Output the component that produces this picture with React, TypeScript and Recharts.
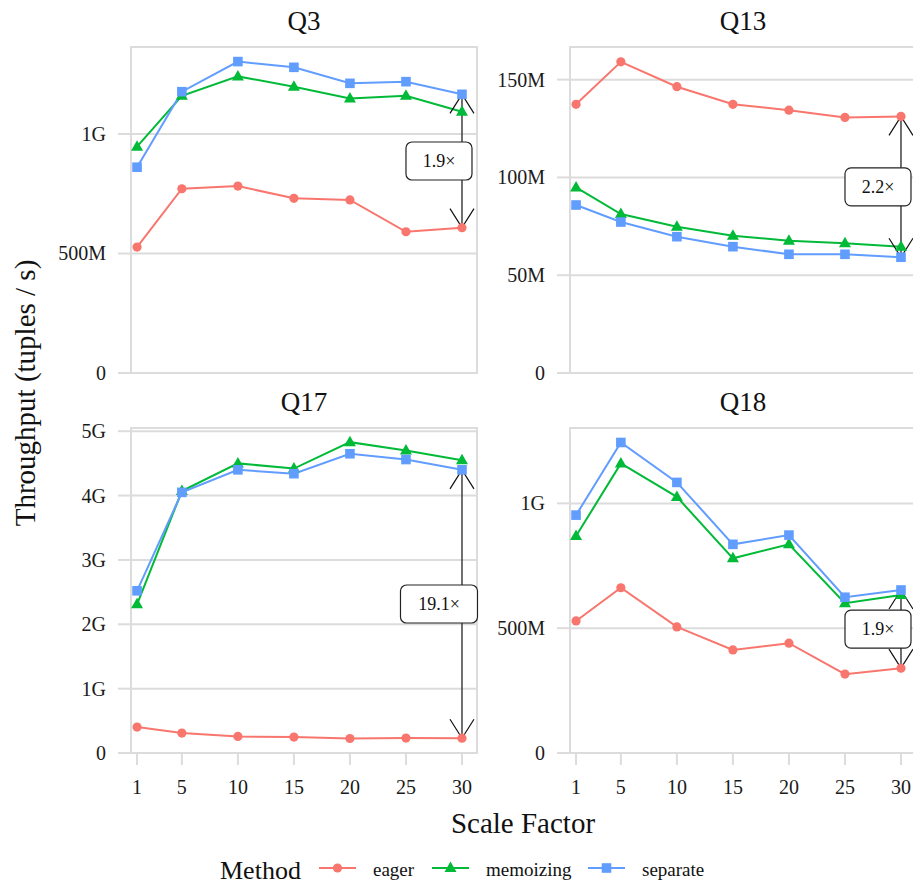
import { CartesianGrid, Line, LineChart, ReferenceArea, ReferenceLine, XAxis, YAxis } from "recharts";

const scaleFactors = [1, 5, 10, 15, 20, 25, 30];
const xTicks = [1, 5, 10, 15, 20, 25, 30];
const methods = ["eager", "memoizing", "separate"];
const methodColors = ["#F8766D", "#00BA38", "#619CFF"];

// throughput values (tuples / s), one array per query and method
const q3Eager = [527e6, 771e6, 782e6, 731e6, 724e6, 591e6, 608e6];
const q3Memoizing = [947e6, 1160e6, 1241e6, 1198e6, 1149e6, 1160e6, 1093e6];
const q3Separate = [861e6, 1177e6, 1303e6, 1279e6, 1212e6, 1219e6, 1166e6];

const q13Eager = [137.4e6, 159.1e6, 146.4e6, 137.4e6, 134.4e6, 130.7e6, 131.2e6];
const q13Memoizing = [94.9e6, 81.3e6, 74.8e6, 70.2e6, 67.6e6, 66.3e6, 64.6e6];
const q13Separate = [85.9e6, 77.2e6, 69.7e6, 64.6e6, 60.7e6, 60.7e6, 59.2e6];

const q17Eager = [0.403e9, 0.31e9, 0.257e9, 0.248e9, 0.225e9, 0.232e9, 0.23e9];
const q17Memoizing = [2.31e9, 4.07e9, 4.5e9, 4.42e9, 4.83e9, 4.7e9, 4.55e9];
const q17Separate = [2.52e9, 4.05e9, 4.4e9, 4.34e9, 4.65e9, 4.56e9, 4.4e9];

const q18Eager = [529e6, 662e6, 505e6, 413e6, 440e6, 316e6, 340e6];
const q18Memoizing = [869e6, 1160e6, 1026e6, 780e6, 836e6, 600e6, 633e6];
const q18Separate = [953e6, 1244e6, 1084e6, 836e6, 873e6, 624e6, 653e6];

const q3Ticks = [0, 500e6, 1e9];
const q13Ticks = [0, 50e6, 100e6, 150e6];
const q17Ticks = [0, 1e9, 2e9, 3e9, 4e9, 5e9];
const q18Ticks = [0, 500e6, 1e9];

const panelTitles = ["Q3", "Q13", "Q17", "Q18"];
const ratioLabels = ["1.9×", "2.2×", "19.1×", "1.9×"];
const yMaxes = [1.364e9, 166.7e6, 5.05e9, 1.302e9];

const FONT = "'Liberation Serif', 'DejaVu Serif', serif";
const GRID = "#dcdcdc";
const INK = "#1a1a1a";
const xDomain = [0.46, 31.34];

const fmt = (v: number) => {
  if (v === 0) return "0";
  if (v >= 1e9) return `${+(v / 1e9).toFixed(2)}G`;
  return `${+(v / 1e6).toFixed(2)}M`;
};

const YTick = (p: any) => (
  <text x={p.x} y={p.y} textAnchor="end" dominantBaseline="central" fontSize={20} fill={INK} style={{ fontFamily: FONT }}>
    {fmt(p.payload.value)}
  </text>
);

const XTick = (p: any) => (
  <text x={p.x} y={p.y} dy="0.71em" textAnchor="middle" fontSize={20} fill={INK} style={{ fontFamily: FONT }}>
    {p.payload.value}
  </text>
);

const marker = (kind: number, cx: number, cy: number, color: string, key?: string) => {
  if (kind === 0) return <circle key={key} cx={cx} cy={cy} r={4.6} fill={color} />;
  if (kind === 1)
    return (
      <polygon
        key={key}
        points={`${cx},${cy - 6.5} ${cx - 6},${cy + 4} ${cx + 6},${cy + 4}`}
        fill={color}
      />
    );
  return <rect key={key} x={cx - 4.8} y={cy - 4.8} width={9.6} height={9.6} fill={color} />;
};

const ratioShape = (label: string) => (p: any) => {
  const { x1, y1, y2 } = p;
  const top = Math.min(y1, y2);
  const bot = Math.max(y1, y2);
  const mid = (top + bot) / 2;
  const w = 22 + label.length * 11;
  const cx = x1 - 23;
  return (
    <g>
      <line x1={x1} y1={top} x2={x1} y2={bot} stroke="#333" strokeWidth={1.4} />
      <polyline
        points={`${x1 - 12},${top + 19} ${x1},${top} ${x1 + 12},${top + 19}`}
        fill="none"
        stroke="#111"
        strokeWidth={1.2}
      />
      <polyline
        points={`${x1 - 12},${bot - 19} ${x1},${bot} ${x1 + 12},${bot - 19}`}
        fill="none"
        stroke="#111"
        strokeWidth={1.2}
      />
      <rect x={cx - w / 2} y={mid - 19} width={w} height={38} rx={6} fill="#fff" stroke="#222" strokeWidth={1.2} />
      <text x={cx} y={mid} textAnchor="middle" dominantBaseline="central" fontSize={18} fill="#111" style={{ fontFamily: FONT }}>
        {label}
      </text>
    </g>
  );
};

interface PanelProps {
  idx: number;
  series: number[][];
  ticks: number[];
  left: number;
  top: number;
  bottomRow: boolean;
  rightCol: boolean;
}

const Panel = ({ idx, series, ticks, left, top, bottomRow, rightCol }: PanelProps) => {
  const data = scaleFactors.map((sf, i) => ({
    sf,
    eager: series[0][i],
    memoizing: series[1][i],
    separate: series[2][i],
  }));
  const last = scaleFactors.length - 1;
  const yMax = yMaxes[idx];
  const width = rightCol ? 436 : 480;
  const height = bottomRow ? 420 : 392;

  return (
    <div style={{ position: "absolute", left, top }}>
      <LineChart
        width={width}
        height={height}
        data={data}
        style={{ overflow: "visible" }}
        margin={{ top: bottomRow ? 48 : 47, right: rightCol ? 0 : 3, bottom: bottomRow ? 0 : 19, left: 0 }}
      >
        <CartesianGrid vertical={false} stroke={GRID} strokeWidth={2} />
        <XAxis
          dataKey="sf"
          type="number"
          domain={xDomain}
          allowDataOverflow
          ticks={xTicks}
          hide={!bottomRow}
          height={47}
          axisLine={false}
          tickSize={12}
          tickMargin={15}
          tickLine={{ stroke: GRID, strokeWidth: 2 }}
          tick={<XTick />}
          interval={0}
        />
        <YAxis
          type="number"
          domain={[0, yMax]}
          allowDataOverflow
          ticks={ticks}
          width={rightCol ? 90 : 131}
          axisLine={false}
          tickSize={13}
          tickMargin={12}
          tickLine={{ stroke: GRID, strokeWidth: 2 }}
          tick={<YTick />}
          interval={0}
        />
        <ReferenceArea
          x1={xDomain[0]}
          x2={xDomain[1]}
          y1={0}
          y2={yMax}
          fill="none"
          fillOpacity={0}
          stroke={GRID}
          strokeWidth={2}
        />
        {methods.map((m, k) => (
          <Line
            key={m}
            dataKey={m}
            type="linear"
            stroke={methodColors[k]}
            strokeWidth={2}
            isAnimationActive={false}
            activeDot={false}
            dot={(p: any) => marker(k, p.cx, p.cy, methodColors[k], `${m}-${p.index}`)}
          />
        ))}
        <ReferenceLine
          segment={[
            { x: scaleFactors[last], y: series[0][last] },
            { x: scaleFactors[last], y: series[2][last] },
          ]}
          shape={ratioShape(ratioLabels[idx])}
        />
      </LineChart>
    </div>
  );
};

const legendX = [319, 432, 588];

const App = () => {
  const txt = { fontFamily: FONT };
  return (
    <div
      style={{
        position: "absolute",
        left: 0,
        top: 0,
        width: 913,
        height: 887,
        overflow: "hidden",
        background: "#fff",
        fontFamily: FONT,
      }}
    >
      <Panel idx={0} series={[q3Eager, q3Memoizing, q3Separate]} ticks={q3Ticks} left={0} top={0} bottomRow={false} rightCol={false} />
      <Panel idx={1} series={[q13Eager, q13Memoizing, q13Separate]} ticks={q13Ticks} left={480} top={0} bottomRow={false} rightCol />
      <Panel idx={2} series={[q17Eager, q17Memoizing, q17Separate]} ticks={q17Ticks} left={0} top={380} bottomRow rightCol={false} />
      <Panel idx={3} series={[q18Eager, q18Memoizing, q18Separate]} ticks={q18Ticks} left={480} top={380} bottomRow rightCol />

      <svg width={913} height={887} style={{ position: "absolute", left: 0, top: 0, pointerEvents: "none" }}>
        <g fill="#111">
          <text x={304} y={30} fontSize={27} textAnchor="middle" style={txt}>{panelTitles[0]}</text>
          <text x={743} y={30} fontSize={27} textAnchor="middle" style={txt}>{panelTitles[1]}</text>
          <text x={304} y={411} fontSize={27} textAnchor="middle" style={txt}>{panelTitles[2]}</text>
          <text x={743} y={411} fontSize={27} textAnchor="middle" style={txt}>{panelTitles[3]}</text>

          <text x={523} y={833} fontSize={29} textAnchor="middle" style={txt}>Scale Factor</text>
          <text
            x={25}
            y={393}
            fontSize={29}
            textAnchor="middle"
            dominantBaseline="central"
            transform="rotate(-90 25 393)"
            style={txt}
          >
            Throughput (tuples / s)
          </text>

          <text x={220} y={879} fontSize={26} style={txt}>Method</text>
          {methods.map((m, k) => (
            <g key={m}>
              <line x1={legendX[k]} y1={868} x2={legendX[k] + 37} y2={868} stroke={methodColors[k]} strokeWidth={2} />
              {marker(k, legendX[k] + 18.5, 868, methodColors[k])}
              <text x={legendX[k] + 54} y={876} fontSize={19} style={txt}>{m}</text>
            </g>
          ))}
        </g>
      </svg>
    </div>
  );
};

export default App;
